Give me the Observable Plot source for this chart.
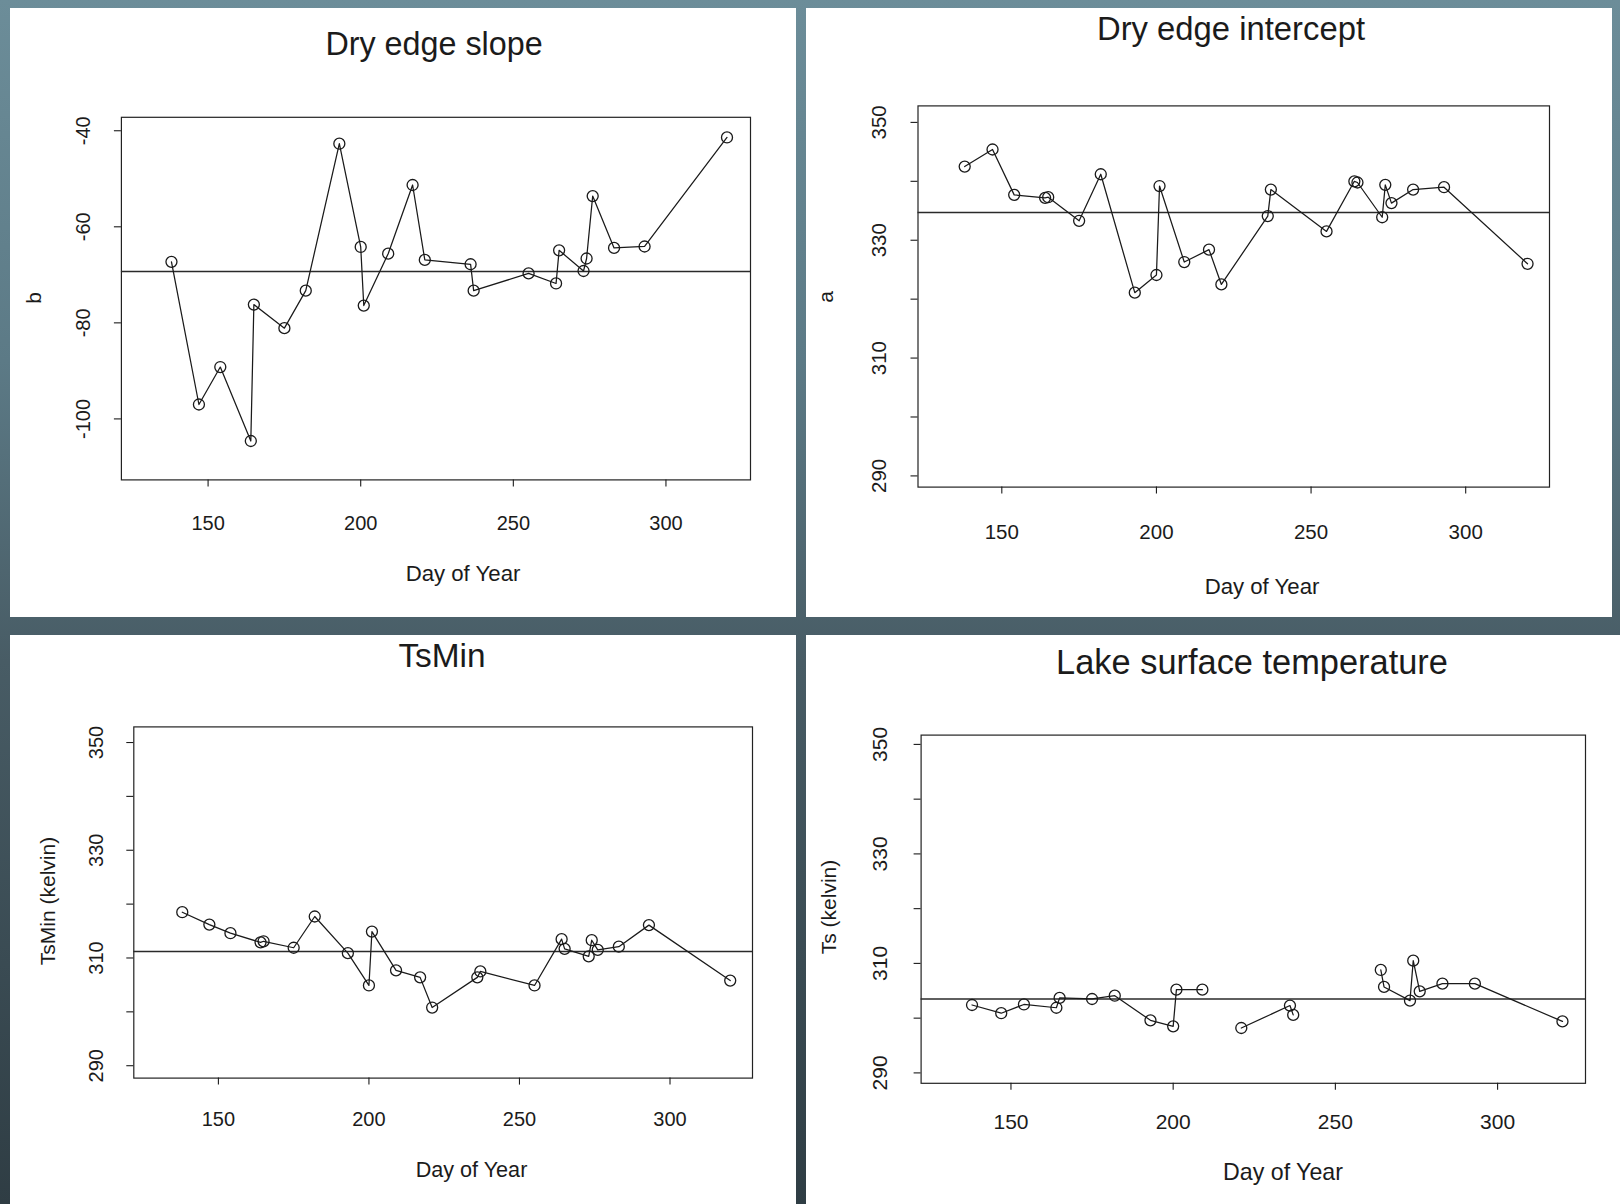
<!DOCTYPE html>
<html><head><meta charset="utf-8">
<script src="https://cdn.jsdelivr.net/npm/d3@7"></script>
<script src="https://cdn.jsdelivr.net/npm/@observablehq/plot@0.6"></script>
<style>
html,body{margin:0;padding:0;}
body{width:1620px;height:1204px;position:relative;overflow:hidden;font-family:"Liberation Sans",Arial,sans-serif;
background:linear-gradient(to bottom,#6c8d99 0%,#5c7a86 30%,#485c65 55%,#3a4b53 80%,#2f3d44 100%);}
.panel{position:absolute;background:#fff;}
.plotbox{position:absolute;}
.txt{position:absolute;white-space:nowrap;line-height:1;color:#1b1b1b;}
</style></head><body>
<script>
// Day of year of each scene
const days = [138,147,154,164,165,175,182,193,200,201,209,217,221,236,237,255,264,265,273,274,276,283,293,320];
// Dry edge slope (b)
const slopeB = [-67.3,-97.0,-89.2,-104.6,-76.2,-81.1,-73.3,-42.7,-64.2,-76.4,-65.6,-51.3,-66.9,-67.8,-73.3,-69.7,-71.8,-64.9,-69.2,-66.6,-53.6,-64.4,-64.1,-41.4];
// Dry edge intercept (a)
const interceptA = [342.5,345.4,337.7,337.2,337.3,333.3,341.2,321.1,324.1,339.2,326.3,328.4,322.5,334.1,338.6,331.5,340.0,339.8,333.9,339.4,336.3,338.6,339.0,326.0];
// TsMin (kelvin)
const tsMin = [318.5,316.2,314.6,312.9,313.1,311.9,317.7,310.9,304.9,314.9,307.7,306.4,300.8,306.4,307.5,304.9,313.5,311.7,310.3,313.3,311.5,312.1,316.1,305.8];
// Lake surface temperature (kelvin), null = missing
const lakeTs = [302.4,300.9,302.5,301.9,303.7,303.5,304.1,299.6,298.5,305.2,305.2,null,298.2,302.3,300.6,null,308.8,305.7,303.2,310.5,304.9,306.3,306.3,299.4];
// Reference (mean) lines
const meanLevels = {slope:-69.3, intercept:334.7, tsmin:311.2, lake:303.5};
// Tick values
const xTicks = [150,200,250,300];
const slopeTicks = [-100,-80,-60,-40];
const kelvinMinorTicks = [290,300,310,320,330,340,350];
const kelvinLabelTicks = [290,310,330,350];

const panels = [
  {title:"Dry edge slope", ylab:"b", values:slopeB, mean:meanLevels.slope,
   box:[10,8,786,609], frame:[120.9,116.8,750,479.4], xdom:[121.6,327.7], ydom:[-112.7,-37.2],
   minor:slopeTicks, major:slopeTicks, xPad:28.6, yPad:31, tickFont:20,
   titleSize:32.3, xlabSize:22.2,
   titlePos:[434,55.5], xlabPos:[463,582], ylabPos:[33,298]},
  {title:"Dry edge intercept", ylab:"a", values:interceptA, mean:meanLevels.intercept,
   box:[806,8,806,609], frame:[917.5,105.4,1549,486.6], xdom:[122.9,327.1], ydom:[288.1,352.8],
   minor:kelvinMinorTicks, major:kelvinLabelTicks, xPad:30.4, yPad:32, tickFont:20.5,
   titleSize:32.8, xlabSize:22.2,
   titlePos:[1231,40.5], xlabPos:[1262,595], ylabPos:[825,297]},
  {title:"TsMin", ylab:"TsMin (kelvin)", values:tsMin, mean:meanLevels.tsmin,
   box:[10,635,786,569], frame:[133.3,726.4,752,1077.6], xdom:[121.9,327.4], ydom:[287.7,352.9],
   minor:kelvinMinorTicks, major:kelvinLabelTicks, xPad:26.4, yPad:31, tickFont:20,
   titleSize:33.4, xlabSize:21.6,
   titlePos:[442,667.5], xlabPos:[471.5,1177.5], ylabPos:[46.5,901]},
  {title:"Lake surface temperature", ylab:"Ts (kelvin)", values:lakeTs, mean:meanLevels.lake,
   box:[806,635,814,569], frame:[920.6,734.6,1585,1082.8], xdom:[122.3,327.1], ydom:[288.1,351.7],
   minor:kelvinMinorTicks, major:kelvinLabelTicks, xPad:24.2, yPad:34, tickFont:21,
   titleSize:34.4, xlabSize:23.2,
   titlePos:[1252,674], xlabPos:[1283,1181], ylabPos:[827.5,906.5]}
];

function addText(str, cx, baseline, size, rotate) {
  const d = document.createElement("div");
  d.className = "txt";
  d.textContent = str;
  d.style.fontSize = size + "px";
  d.style.left = cx + "px";
  if (rotate) {
    d.style.top = baseline + "px"; // center for rotated text
    d.style.transform = "translate(-50%,-50%) rotate(-90deg)";
  } else {
    d.style.top = (baseline - 0.8465 * size) + "px";
    d.style.transform = "translateX(-50%)";
  }
  document.body.appendChild(d);
}

for (const p of panels) {
  const [bx, by, bw, bh] = p.box;
  const [fx0, fy0, fx1, fy1] = p.frame;
  const panel = document.createElement("div");
  panel.className = "panel";
  Object.assign(panel.style, {left: bx + "px", top: by + "px", width: bw + "px", height: bh + "px"});
  document.body.appendChild(panel);

  const data = days.map((d, i) => ({day: d, v: p.values[i]}));
  const chart = Plot.plot({
    width: bw, height: bh,
    marginLeft: fx0 - bx, marginTop: fy0 - by,
    marginRight: bx + bw - fx1, marginBottom: by + bh - fy1,
    x: {domain: p.xdom},
    y: {domain: p.ydom},
    style: {fontFamily: "'Liberation Sans', Arial, sans-serif", fontSize: p.tickFont + "px", color: "#1b1b1b", background: "transparent", overflow: "visible"},
    marks: [
      Plot.frame({stroke: "#222", strokeWidth: 1.2}),
      Plot.axisX({ticks: xTicks, tickSize: 7, tickPadding: p.xPad, label: null, tickFormat: d => String(d), strokeWidth: 1.1}),
      Plot.axisY({ticks: p.minor, tickSize: 7, tickFormat: () => "", label: null, strokeWidth: 1.1}),
      Plot.axisY({ticks: p.major, tickSize: 0, tickRotate: -90, tickPadding: p.yPad, label: null,
                  textAnchor: "middle", lineAnchor: "bottom", tickFormat: d => String(d)}),
      Plot.ruleY([p.mean], {stroke: "#2a2a2a", strokeWidth: 1.6}),
      Plot.line(data, {x: "day", y: "v", stroke: "#1a1a1a", strokeWidth: 1.25}),
      Plot.dot(data, {x: "day", y: "v", r: 5.5, stroke: "#1a1a1a", fill: "none", strokeWidth: 1.3})
    ]
  });
  const holder = document.createElement("div");
  holder.className = "plotbox";
  Object.assign(holder.style, {left: bx + "px", top: by + "px", width: bw + "px", height: bh + "px"});
  holder.appendChild(chart);
  document.body.appendChild(holder);

  addText(p.title, p.titlePos[0], p.titlePos[1], p.titleSize, false);
  addText("Day of Year", p.xlabPos[0], p.xlabPos[1], p.xlabSize, false);
  addText(p.ylab, p.ylabPos[0], p.ylabPos[1], 21, true);
}
</script>
</body></html>
